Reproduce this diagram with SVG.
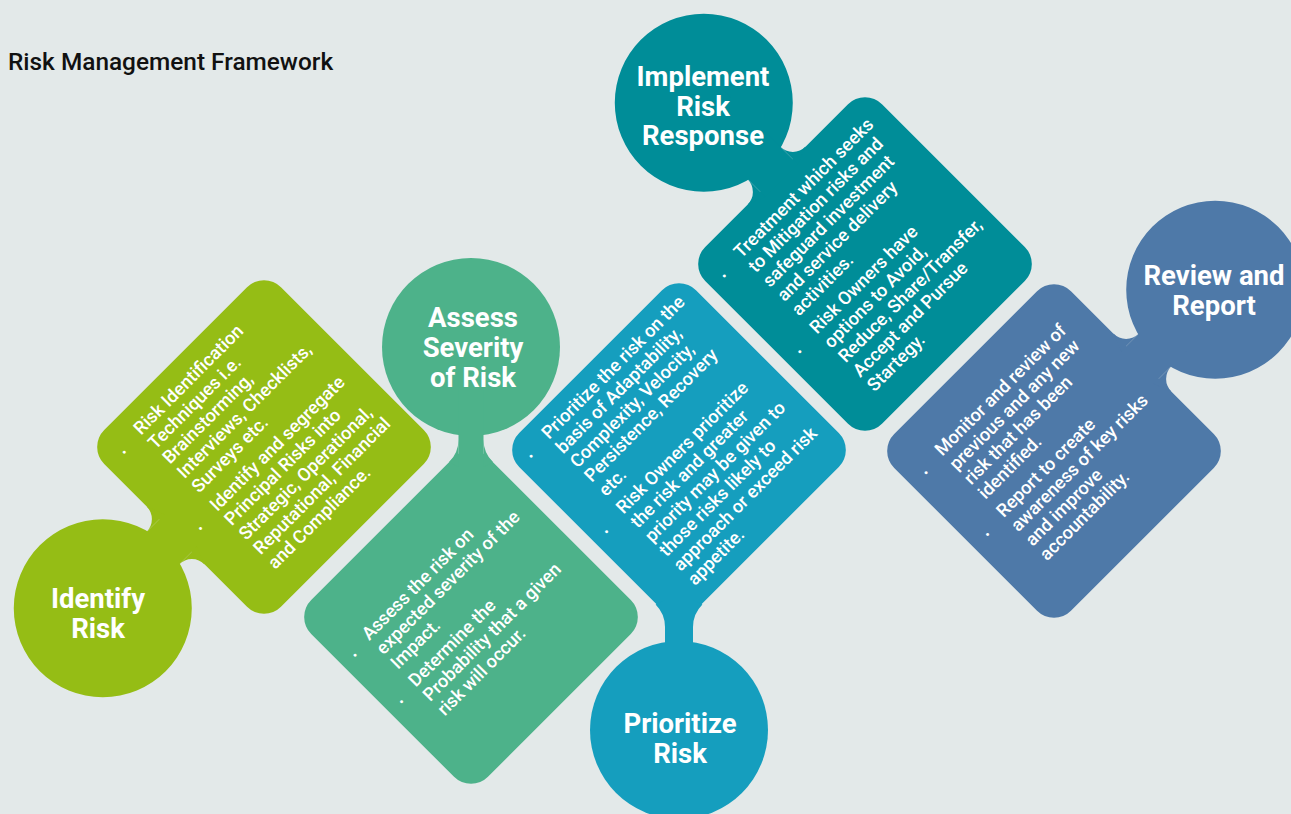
<svg xmlns="http://www.w3.org/2000/svg" width="1291" height="814" viewBox="0 0 1291 814">
<style>
.bg{fill:#e3e9e9}
.title{font-family:Roboto,"Liberation Sans",sans-serif;font-size:24.4px;font-weight:500;fill:#111111}
.ct{font-family:Roboto,"Liberation Sans",sans-serif;font-size:27.5px;font-weight:700;fill:#ffffff;text-anchor:middle}
.dt{font-family:Roboto,"Liberation Sans",sans-serif;font-size:18.2px;font-weight:500;fill:#ffffff}
.bl{font-family:Roboto,"Liberation Sans",sans-serif;font-size:14px;fill:#ffffff;text-anchor:middle}
.c1{fill:#95bd15}.c2{fill:#4db28a}.c3{fill:#159ebe}.c4{fill:#008d98}.c5{fill:#4e79a8}
</style>
<defs>
<g id="edgeShape">
<rect x="-125" y="-125" width="250" height="250" rx="24"/>
<circle cx="0" cy="-228" r="89"/>
<rect x="-23" y="-228" width="46" height="110"/>
<path d="M-23,-143 A18,18 0 0 1 -41,-125 L-23,-118 Z M23,-143 A18,18 0 0 0 41,-125 L23,-118 Z"/>
</g>
</defs>
<rect class="bg" x="0" y="0" width="1291" height="814"/>
<text class="title" x="8" y="70">Risk Management Framework</text>
<g id="connectors"/>

<g id="node-identify">
<use href="#edgeShape" class="c1" transform="translate(264,447) rotate(-135)"/>
<text class="ct"><tspan x="98" y="608">Identify</tspan><tspan x="98" y="638">Risk</tspan></text>
<text class="dt" transform="translate(264,447) rotate(-45)">
<tspan x="-79" y="-95">Risk Identification</tspan>
<tspan x="-79" y="-74.5">Techniques i.e.</tspan>
<tspan x="-79" y="-54">Brainstorming,</tspan>
<tspan x="-79" y="-33.5">Interviews, Checklists,</tspan>
<tspan x="-79" y="-13">Surveys etc.</tspan>
<tspan x="-79" y="13">Identify and segregate</tspan>
<tspan x="-79" y="33.5">Principal Risks into</tspan>
<tspan x="-79" y="54">Strategic, Operational,</tspan>
<tspan x="-79" y="74.5">Reputational, Financial</tspan>
<tspan x="-79" y="95">and Compliance.</tspan>
</text>
<text class="bl" transform="translate(264,447) rotate(-45)"><tspan x="-102.5" y="-90">•</tspan><tspan x="-102.5" y="18">•</tspan></text>
</g>

<g id="node-assess">
<g class="c2" transform="translate(471,617)">
<rect x="-125" y="-125" width="250" height="250" rx="24" transform="rotate(45)"/>
<circle cx="0" cy="-270" r="89"/>
<rect x="-12.5" y="-270" width="25" height="120"/>
<path d="M-12.5,-177.5 A32,32 0 0 1 -21.9,-154.9 L-12.5,-150 Z M12.5,-177.5 A32,32 0 0 0 21.9,-154.9 L12.5,-150 Z"/>
</g>
<text class="ct"><tspan x="473" y="327">Assess</tspan><tspan x="473" y="357">Severity</tspan><tspan x="473" y="387">of Risk</tspan></text>
<text class="dt" transform="translate(471,617) rotate(-45)">
<tspan x="-89" y="-55">Assess the risk on</tspan>
<tspan x="-89" y="-34.6">expected severity of the</tspan>
<tspan x="-89" y="-14.2">Impact.</tspan>
<tspan x="-89" y="11">Determine the</tspan>
<tspan x="-89" y="31.4">Probability that a given</tspan>
<tspan x="-89" y="51.8">risk will occur.</tspan>
</text>
<text class="bl" transform="translate(471,617) rotate(-45)"><tspan x="-109" y="-50">•</tspan><tspan x="-109" y="16">•</tspan></text>
</g>

<g id="node-prioritize">
<g class="c3" transform="translate(679,450) rotate(180)">
<rect x="-125" y="-125" width="250" height="250" rx="24" transform="rotate(45)"/>
<circle cx="0" cy="-280" r="89"/>
<rect x="-14" y="-280" width="28" height="130"/>
<path d="M-14,-177 A32,32 0 0 1 -23.4,-154.4 L-14,-150 Z M14,-177 A32,32 0 0 0 23.4,-154.4 L14,-150 Z"/>
</g>
<text class="ct"><tspan x="680" y="733">Prioritize</tspan><tspan x="680" y="763">Risk</tspan></text>
<text class="dt" transform="translate(679,450) rotate(-45)">
<tspan x="-85" y="-99">Prioritize the risk on the</tspan>
<tspan x="-85" y="-78.8">basis of Adaptability,</tspan>
<tspan x="-85" y="-58.6">Complexity, Velocity,</tspan>
<tspan x="-85" y="-38.4">Persistence, Recovery</tspan>
<tspan x="-85" y="-18.2">etc.</tspan>
<tspan x="-85" y="6.6">Risk Owners prioritize</tspan>
<tspan x="-85" y="26.8">the risk and greater</tspan>
<tspan x="-85" y="47">priority may be given to</tspan>
<tspan x="-85" y="67.2">those risks likely to</tspan>
<tspan x="-85" y="87.4">approach or exceed risk</tspan>
<tspan x="-85" y="107.6">appetite.</tspan>
</text>
<text class="bl" transform="translate(679,450) rotate(-45)"><tspan x="-109" y="-95">•</tspan><tspan x="-109" y="11.6">•</tspan></text>
</g>

<g id="node-implement">
<use href="#edgeShape" class="c4" transform="translate(865,264) rotate(-45)"/>
<text class="ct"><tspan x="703" y="86">Implement</tspan><tspan x="703" y="115.5">Risk</tspan><tspan x="703" y="145">Response</tspan></text>
<text class="dt" transform="translate(865,264) rotate(-45)">
<tspan x="-84" y="-91">Treatment which seeks</tspan>
<tspan x="-84" y="-70.6">to Mitigation risks and</tspan>
<tspan x="-84" y="-50.2">safeguard investment</tspan>
<tspan x="-84" y="-29.8">and service delivery</tspan>
<tspan x="-84" y="-9.4">activities.</tspan>
<tspan x="-84" y="16">Risk Owners have</tspan>
<tspan x="-84" y="36.4">options to Avoid,</tspan>
<tspan x="-84" y="56.8">Reduce, Share/Transfer,</tspan>
<tspan x="-84" y="77.2">Accept and Pursue</tspan>
<tspan x="-84" y="97.6">Startegy.</tspan>
</text>
<text class="bl" transform="translate(865,264) rotate(-45)"><tspan x="-108" y="-86">•</tspan><tspan x="-108" y="21">•</tspan></text>
</g>

<g id="node-review">
<use href="#edgeShape" class="c5" transform="translate(1054,451) rotate(45)"/>
<text class="ct"><tspan x="1214" y="285">Review and</tspan><tspan x="1214" y="315">Report</tspan></text>
<text class="dt" transform="translate(1054,451) rotate(-45)">
<tspan x="-83" y="-75">Monitor and review of</tspan>
<tspan x="-83" y="-54.6">previous and any new</tspan>
<tspan x="-83" y="-34.2">risk that has been</tspan>
<tspan x="-83" y="-13.8">identified.</tspan>
<tspan x="-83" y="12">Report to create</tspan>
<tspan x="-83" y="32.4">awareness of key risks</tspan>
<tspan x="-83" y="52.8">and improve</tspan>
<tspan x="-83" y="73.2">accountability.</tspan>
</text>
<text class="bl" transform="translate(1054,451) rotate(-45)"><tspan x="-106" y="-70">•</tspan><tspan x="-106" y="17">•</tspan></text>
</g>
</svg>
